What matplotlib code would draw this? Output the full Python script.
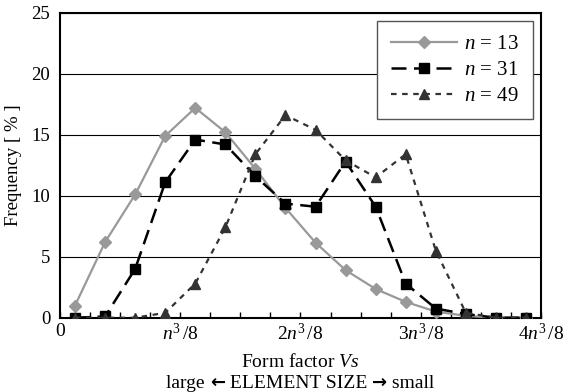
import matplotlib.pyplot as plt
import numpy as np
from matplotlib.offsetbox import TextArea, HPacker, AnnotationBbox

plt.rcParams['font.family'] = ['Liberation Serif', 'DejaVu Serif']
plt.rcParams['mathtext.fontset'] = 'custom'
plt.rcParams['mathtext.rm'] = 'Liberation Serif'
plt.rcParams['mathtext.it'] = 'Liberation Serif:italic'

# bins (in units of n^3/32), centred in each bin
bins = np.arange(16) + 0.5

freq_13 = [1.0, 6.2, 10.1, 14.9, 17.2, 15.2, 12.2, 9.0, 6.15, 3.9, 2.35, 1.3, 0.5, 0.15, 0.0, 0.0]
freq_31 = [0.0, 0.1, 4.0, 11.1, 14.6, 14.2, 11.6, 9.35, 9.1, 12.8, 9.1, 2.8, 0.75, 0.3, 0.0, 0.0]
freq_49 = [0.0, 0.0, 0.0, 0.4, 2.8, 7.4, 13.4, 16.6, 15.4, 12.9, 11.5, 13.4, 5.5, 0.4, 0.0, 0.0]

tick_pos = [0, 4, 8, 12, 16]
tick_labels = ['0', r'$n^{3}\,/8$', r'$2n^{3}\,/8$', r'$3n^{3}\,/8$', r'$4n^{3}\,/8$']

fig = plt.figure(figsize=(5.64, 3.92), dpi=100)
ax = fig.add_axes([0.1064, 0.1895, 0.8528, 0.7781])

ax.plot(bins, freq_13, color='#999999', linestyle='-', linewidth=1.6,
        marker='D', markersize=6.5, markerfacecolor='#999999', markeredgecolor='#999999',
        label=r'$n$ = 13 ', zorder=3)
ax.plot(bins, freq_31, color='black', linestyle=(0, (6, 3)), linewidth=1.8,
        marker='s', markersize=7, markerfacecolor='black', markeredgecolor='black',
        label=r'$n$ = 31 ', zorder=4)
ax.plot(bins, freq_49, color='#333333', linestyle=(0, (2.5, 2.5)), linewidth=1.6,
        marker='^', markersize=7, markerfacecolor='#333333', markeredgecolor='#333333',
        label=r'$n$ = 49 ', zorder=5)

ax.set_xlim(0, 16)
ax.set_ylim(0, 25)
ax.set_yticks([0, 5, 10, 15, 20, 25])
ax.set_xticks(tick_pos)
ax.set_xticklabels(tick_labels)
ax.set_xticks(np.arange(1, 16), minor=True)
ax.tick_params(axis='x', which='both', direction='in', length=4, width=1, labelsize=14, pad=4)
ax.tick_params(axis='y', length=0, labelsize=13.5, pad=7)

ax.yaxis.grid(True, color='black', linewidth=0.8)
ax.set_axisbelow(True)
for sp in ax.spines.values():
    sp.set_linewidth(1.5)

ax.set_ylabel('Frequency [ % ]', fontsize=13.5, labelpad=7)
ax.set_xlabel('Form factor $Vs$', fontsize=14, labelpad=6)

# second line of the x label, arrows drawn in a heavier font
parts = [('large ', None), ('\u2190', 'DejaVu Sans'), (' ELEMENT SIZE ', None),
         ('\u2192', 'DejaVu Sans'), (' small', None)]
areas = []
for s, fam in parts:
    props = dict(fontsize=14)
    if fam:
        props.update(family=fam, fontweight='bold', fontsize=13)
    areas.append(TextArea(s, textprops=props))
pack = HPacker(children=areas, align='baseline', pad=0, sep=0)
# centred under the axes
ab = AnnotationBbox(pack, (0.5, 0.0), xycoords=('axes fraction', 'figure fraction'),
                    box_alignment=(0.5, 0.0), frameon=False)
ax.add_artist(ab)
ab.set_clip_on(False)

leg = ax.legend(loc='upper right', fontsize=15, frameon=True, fancybox=False,
                edgecolor='#555555', framealpha=1, handlelength=3.2,
                borderaxespad=0.4, labelspacing=0.3, handletextpad=0.3,
                borderpad=0.65)
leg.get_frame().set_linewidth(1.0)

plt.savefig('out.png', dpi=100)
